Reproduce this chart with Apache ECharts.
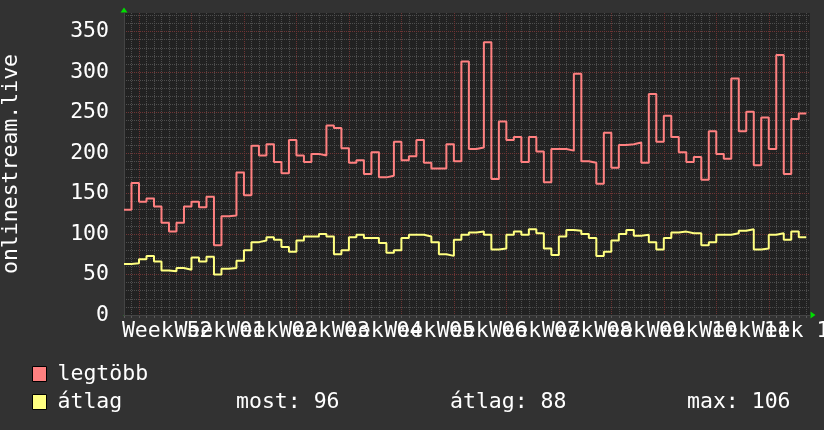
<!DOCTYPE html>
<html><head><meta charset="utf-8">
<script src="https://cdn.jsdelivr.net/npm/echarts@6/dist/echarts.min.js"></script>
<style>html,body{margin:0;padding:0;background:#323232}#c{width:824px;height:430px}</style>
</head><body><div id="c"></div>
<script>
// x tick labels (one per week)
const weekLabels = ['Week 52','Week 01','Week 02','Week 03','Week 04','Week 05','Week 06',
  'Week 07','Week 08','Week 09','Week 10','Week 11','Week 12'];
// daily values, series "legtöbb"
const maxValues = [130,163,140,144,134,114,103,114,134,140,
  133,146,86,122,123,176,148,209,197,211,
  189,175,216,197,189,199,197,234,231,206,
  188,191,174,201,170,172,214,191,196,216,
  188,181,181,211,190,313,205,207,337,168,
  239,216,220,189,220,202,164,205,205,203,
  298,190,188,162,225,182,210,211,213,188,
  273,214,246,220,201,189,195,167,227,199,
  193,292,227,251,185,244,205,321,174,242,249];
// daily values, series "átlag"
const avgValues = [63,64,69,73,66,55,54,58,56,71,
  66,72,50,57,58,67,80,90,92,96,
  93,84,78,92,97,97,100,97,75,80,
  96,99,95,95,89,77,80,95,99,99,
  97,90,75,73,93,99,102,103,99,81,
  82,99,103,99,106,101,82,74,97,105,
  104,100,95,73,78,92,100,105,98,99,
  90,81,95,102,103,101,101,86,90,99,
  99,101,104,106,81,82,99,101,93,103,96];
const seriesNames = ['legtöbb', 'átlag'];
const yAxisName = 'onlinestream.live';

const FONT = 'DejaVu Sans Mono';
const FS = 21.5;
// half-day slots on the x axis
const SLOTS = 184;
const cats = Array.from({length: SLOTS}, (_, i) => String(i));
function toPairs(arr) {
  const out = arr.map((v, d) => [2 * d, v]);
  out.push([2 * arr.length, arr[arr.length - 1]]);
  return out;
}
const last = avgValues[avgValues.length - 1];
const mean = Math.round(avgValues.reduce((a, b) => a + b, 0) / avgValues.length);
const peak = Math.max(...avgValues);

const chart = echarts.init(document.getElementById('c'), null, {renderer: 'canvas'});
const majorColor = '#6e3434';
const minorColor = '#4e4e4e';
const legendText = {color: '#ffffff', fontFamily: FONT, fontSize: FS, lineHeight: 15, padding: [0, 0, 0, 6]};
function weekLabelAxis(phase) {
  return {
    show: true, color: '#ffffff', fontFamily: FONT, fontSize: FS, margin: 5, padding: [0, 0, 0, 4],
    showMinLabel: true, showMaxLabel: true, hideOverlap: false,
    interval: (i) => i >= phase && (i - phase) % 28 === 0,
    formatter: (v) => weekLabels[(Number(v) - 11) / 14] || ''
  };
}
chart.setOption({
  backgroundColor: '#323232',
  animation: false,
  grid: {left: 124, right: 14, top: 13, bottom: 115, show: true, backgroundColor: '#222222', borderWidth: 0,
    containLabel: false, outerBoundsMode: 'none'},
  xAxis: [{
    type: 'category', data: cats, boundaryGap: false, z: 1, position: 'bottom',
    axisLine: {show: true, onZero: false, lineStyle: {color: '#444444'}},
    axisTick: {show: false},
    axisLabel: weekLabelAxis(11),
    splitLine: {show: true, interval: (i) => i % 14 === 4, lineStyle: {color: majorColor, type: [1, 1], width: 1}}
  }, {
    type: 'category', data: cats, boundaryGap: false, z: 0, position: 'bottom', offset: 0,
    axisLine: {show: true, onZero: false, symbol: ['none', 'triangle'], symbolSize: [7, 5], symbolOffset: [0, 3],
      lineStyle: {color: '#00dd00', type: [0, 10000]}},
    axisTick: {show: false},
    axisLabel: weekLabelAxis(25),
    splitLine: {show: true, interval: (i) => i % 2 === 0 && i % 14 !== 4, lineStyle: {color: minorColor, type: [1, 1], width: 1}}
  }, {
    type: 'category', data: cats, boundaryGap: false, z: 0, position: 'top', offset: 0,
    axisLine: {show: false},
    axisTick: {show: true, inside: true, length: 3, interval: (i) => i % 2 === 0, lineStyle: {color: '#5a5a5a', width: 1}},
    axisLabel: {show: false},
    splitLine: {show: false}
  }],
  yAxis: [{
    type: 'value', min: 0, max: 373, interval: 50, z: 1, position: 'left',
    name: yAxisName, nameLocation: 'middle', nameRotate: 90, nameGap: 102,
    nameTextStyle: {color: '#ffffff', fontFamily: FONT, fontSize: FS},
    axisLine: {show: true, lineStyle: {color: '#444444'}},
    axisTick: {show: false},
    axisLabel: {color: '#ffffff', fontFamily: FONT, fontSize: FS, margin: 15,
      formatter: (v) => (v % 50 === 0 ? String(v) : '')},
    splitLine: {show: true, showMaxLine: false, showMinLine: false, lineStyle: {color: majorColor, type: [1, 1], width: 1}}
  }, {
    type: 'value', min: 0, max: 373, interval: 10, z: 0, position: 'left',
    axisLine: {show: true, symbol: ['none', 'triangle'], symbolSize: [7, 5], symbolOffset: [0, 3],
      lineStyle: {color: '#00dd00', type: [0, 10000]}},
    axisTick: {show: false}, axisLabel: {show: false},
    splitLine: {show: true, showMaxLine: false, showMinLine: false, lineStyle: {color: minorColor, type: [1, 1], width: 1}}
  }],
  legend: [{
    orient: 'vertical', left: 32, top: 363, padding: 0, itemWidth: 14, itemHeight: 15,
    icon: 'rect', data: [seriesNames[0]],
    itemStyle: {borderColor: '#000000', borderWidth: 1}, textStyle: legendText
  }, {
    orient: 'vertical', left: 32, top: 391, padding: 0, itemWidth: 14, itemHeight: 15,
    icon: 'rect', data: [seriesNames[1]],
    itemStyle: {borderColor: '#000000', borderWidth: 1}, textStyle: legendText
  }],
  graphic: [
    {type: 'text', x: 236, y: 402, style: {text: 'most: ' + last, fill: '#ffffff', font: FS + 'px "' + FONT + '"', verticalAlign: 'middle'}},
    {type: 'text', x: 450, y: 402, style: {text: 'átlag: ' + mean, fill: '#ffffff', font: FS + 'px "' + FONT + '"', verticalAlign: 'middle'}},
    {type: 'text', x: 687, y: 402, style: {text: 'max: ' + peak, fill: '#ffffff', font: FS + 'px "' + FONT + '"', verticalAlign: 'middle'}}
  ],
  series: [{
    name: seriesNames[0], type: 'line', step: 'end', showSymbol: false, symbol: 'none',
    xAxisIndex: 0, yAxisIndex: 0, data: toPairs(maxValues),
    color: '#ff8080', lineStyle: {width: 2, color: '#ff8080'}
  }, {
    name: seriesNames[1], type: 'line', step: 'end', showSymbol: false, symbol: 'none',
    xAxisIndex: 0, yAxisIndex: 0, data: toPairs(avgValues),
    color: '#ffff80', lineStyle: {width: 2, color: '#ffff80'}
  }]
});
</script></body></html>
